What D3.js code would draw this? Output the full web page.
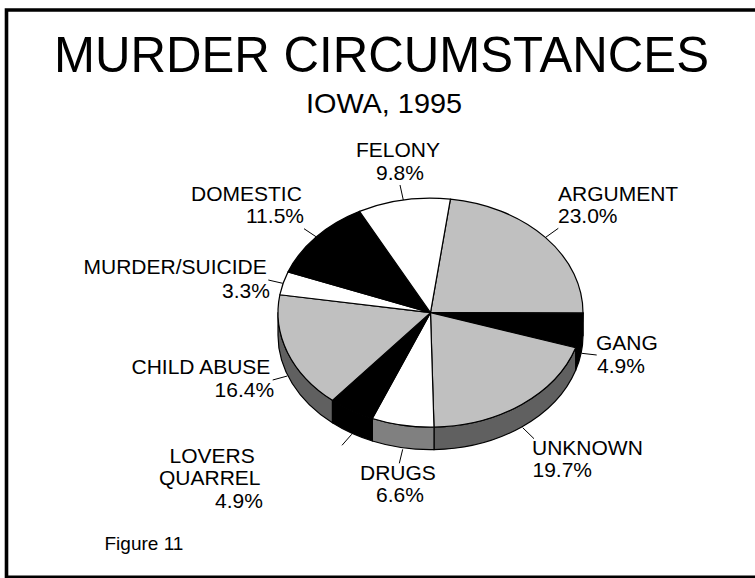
<!DOCTYPE html>
<html><head><meta charset="utf-8">
<script src="https://cdn.jsdelivr.net/npm/d3@7"></script>
<style>html,body{margin:0;padding:0;background:#fff}svg{display:block}text{font-family:"Liberation Sans",Arial,sans-serif;fill:#000}</style>
</head><body><svg id="c" width="755" height="578"></svg>
<script>
const categories=["ARGUMENT","GANG","UNKNOWN","DRUGS","LOVERS QUARREL","CHILD ABUSE","MURDER/SUICIDE","DOMESTIC","FELONY"];
const values=[23.0,4.9,19.7,6.6,4.9,16.4,3.3,11.5,9.8];
const topFills=["#c0c0c0","#000000","#c0c0c0","#ffffff","#000000","#c0c0c0","#ffffff","#000000","#ffffff"];
const sideFills=["#606060","#000000","#606060","#808080","#000000","#606060","#808080","#000000","#808080"];
const titleText="MURDER CIRCUMSTANCES";
const subtitleText="IOWA, 1995";
const figureText="Figure 11";
// label layout, kept apart from the values
const labelLines=[["ARGUMENT"],["GANG"],["UNKNOWN"],["DRUGS"],["LOVERS","QUARREL"],["CHILD ABUSE"],["MURDER/SUICIDE"],["DOMESTIC"],["FELONY"]];
const labelPos=[[[558,200.5]],[[596,350]],[[532,454.5]],[[360,479.5]],[[169.5,463],[159,485]],[[131.5,374]],[[83.5,274]],[[191,200.5]],[[356,156.5]]];
const pctPos=[[558,223],[597,372.5],[532.5,477],[376,502],[215,507.5],[214.6,397],[222,297.5],[246,223],[376,180]];
const leaders=[[558.3,228.3,545.7,237.3],[581.7,353.3,596.7,355],[522.7,427.7,534,438.7],[402.7,449.3,399.3,463.3],[351.7,434.3,342,445.3],[287.3,376,272.7,380],[282.7,283.3,268.3,280],[316,236.7,304,228.7],[403.3,200,400,185]];

const svg=d3.select("#c");
const frameLine=d3.line();
svg.append("path").attr("d",frameLine([[755,10],[6.5,10],[6.5,578]])).attr("fill","none").attr("stroke","#000").attr("stroke-width",3.6);
svg.append("path").attr("d",frameLine([[5,577],[755,577]])).attr("fill","none").attr("stroke","#000").attr("stroke-width",3);

const cx=430.5,cy=312.7,rx=152.5,ry=114.5,depth=22.5;
const start=7.5*Math.PI/180;
const arcs=d3.pie().sort(null).value(d=>d).startAngle(start).endAngle(start+2*Math.PI)(values);
const px=a=>cx+rx*Math.sin(a), py=a=>cy-ry*Math.cos(a);
const PI=Math.PI;
const g=svg.append("g");
// side walls
arcs.forEach((d,i)=>{
  const a0=Math.max(d.startAngle,PI/2), a1=Math.min(d.endAngle,3*PI/2);
  if(a1<=a0) return;
  const p=`M${px(a0)},${py(a0)}A${rx},${ry} 0 0 1 ${px(a1)},${py(a1)}L${px(a1)},${py(a1)+depth}A${rx},${ry} 0 0 0 ${px(a0)},${py(a0)+depth}Z`;
  g.append("path").attr("d",p).attr("fill",sideFills[i]).attr("stroke","#000").attr("stroke-width",1.2).attr("stroke-linejoin","round");
});
// top face
const arcGen=d3.arc().innerRadius(0).outerRadius(rx);
g.append("g").attr("transform",`translate(${cx},${cy}) scale(1,${ry/rx})`)
 .selectAll("path").data(arcs).join("path").attr("d",arcGen)
 .attr("fill",(d,i)=>topFills[i]).attr("stroke","#000").attr("stroke-width",1.2)
 .attr("stroke-linejoin","round").style("vector-effect","non-scaling-stroke");

// leaders
svg.append("g").selectAll("line").data(leaders).join("line")
 .attr("x1",d=>d[0]).attr("y1",d=>d[1]).attr("x2",d=>d[2]).attr("y2",d=>d[3])
 .attr("stroke","#000").attr("stroke-width",1);

// titles
svg.append("text").attr("x",54).attr("y",71.5).attr("font-size",50)
 .attr("textLength",655).attr("lengthAdjust","spacingAndGlyphs").text(titleText);
svg.append("text").attr("x",306).attr("y",113).attr("font-size",27.5)
 .attr("textLength",156).attr("lengthAdjust","spacingAndGlyphs").text(subtitleText);
svg.append("text").attr("x",104.5).attr("y",550).attr("font-size",19).text(figureText);

// labels
const fs=21;
categories.forEach((c,i)=>{
  labelLines[i].forEach((t,j)=>svg.append("text").attr("x",labelPos[i][j][0]).attr("y",labelPos[i][j][1]).attr("font-size",fs).text(t));
  svg.append("text").attr("x",pctPos[i][0]).attr("y",pctPos[i][1]).attr("font-size",fs).text(d3.format(".1f")(values[i])+"%");
});
</script></body></html>
